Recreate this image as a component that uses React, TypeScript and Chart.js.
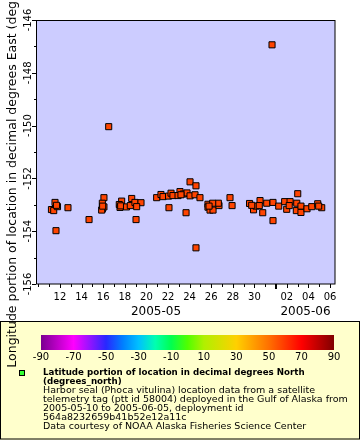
import { useEffect, useRef } from "react";
import { Chart, registerables } from "chart.js";

Chart.register(...registerables);

// Observation time, as fractional day of May 2005 (32 = 2005-06-01)
const obsDay = [
  11.21, 11.42, 11.54, 11.77, 11.68, 12.74, 11.63, 14.69, 16.07, 15.92,
  15.92, 16.07, 15.86, 15.95, 16.51, 17.71, 17.49, 17.56, 17.62, 18.16,
  18.64, 18.51, 18.94, 19.5, 19.1, 19.04, 20.95, 21.35, 21.54, 22.05,
  22.28, 22.46, 23.11, 22.93, 23.42, 23.76, 23.2, 24.04, 24.5, 24.96,
  24.04, 24.59, 22.09, 23.67, 24.59, 25.7, 25.7, 25.89, 26.17, 26.72,
  26.66, 26.14, 25.8, 27.74, 27.93, 29.55, 29.92, 30.15, 30.52, 30.45,
  30.77, 29.75, 31.14, 31.72, 31.72, 32.25, 32.8, 32.99, 33.3, 33.22,
  34.01, 33.92, 33.88, 34.31, 34.31, 34.87, 35.31, 35.86, 36.23, 35.95,
  31.63,
];
// Longitude in decimal degrees East
const obsLon = [
  -153.18, -153.22, -152.91, -153.07, -153.02, -153.11, -153.98, -153.56, -152.73, -152.94,
  -153.16, -153.08, -153.2, -153.05, -150.04, -152.86, -152.99, -153.1, -153.04, -153.08,
  -152.76, -153.03, -152.91, -152.92, -153.07, -153.56, -152.73, -152.61, -152.69, -152.67,
  -152.56, -152.65, -152.5, -152.65, -152.59, -152.55, -152.62, -152.66, -152.62, -152.73,
  -152.13, -152.28, -153.11, -153.3, -154.63, -152.98, -153.09, -153.2, -153.2, -153.03,
  -152.94, -152.94, -153.05, -152.73, -153.03, -152.95, -153.19, -153.05, -152.84, -153.03,
  -153.3, -153.02, -152.94, -152.91, -153.6, -153.05, -152.88, -153.17, -152.88, -153.03,
  -152.58, -152.94, -153.22, -153.05, -153.29, -153.15, -153.07, -152.96, -153.11, -153.05,
  -146.94,
];

const xMin = 9.78;
const xMax = 37.46;
const yMin = -156;
const yMax = -146;

const xTickDays = [10, 11, 12, 13, 14, 15, 16, 17, 18, 19, 20, 21, 22, 23, 24, 25, 26, 27, 28, 29, 30, 31, 32, 33, 34, 35, 36, 37];
const xLabelDays = [12, 14, 16, 18, 20, 22, 24, 26, 28, 30, 33, 35, 37];
const xLabelTexts = ["12", "14", "16", "18", "20", "22", "24", "26", "28", "30", "02", "04", "06"];
const monthStartDays = [32];
const monthLabels = ["2005-05", "2005-06"];

const yTickValues = [-156, -155, -154, -153, -152, -151, -150, -149, -148, -147, -146];
const yLabelValues = [-156, -154, -152, -150, -148, -146];
const yLabelTexts = ["-156", "-154", "-152", "-150", "-148", "-146"];

const cbarLabels = ["-90", "-70", "-50", "-30", "-10", "10", "30", "50", "70", "90"];
const cbarStops: [number, string][] = [
  [0, "#7a0090"],
  [0.111, "#ff00ff"],
  [0.222, "#2828ff"],
  [0.28, "#0080ff"],
  [0.333, "#00c0ff"],
  [0.39, "#00ffb0"],
  [0.444, "#00ff50"],
  [0.5, "#50ff00"],
  [0.556, "#b0f000"],
  [0.667, "#ffd000"],
  [0.778, "#ff7000"],
  [0.889, "#ff0000"],
  [1, "#800000"],
];

const titleY = "Longitude portion of location in decimal degrees East (degrees_east)";
const legendBold = ["Latitude portion of location in decimal degrees North", "(degrees_north)"];
const legendLines = [
  "Harbor seal (Phoca vitulina) location data from a satellite",
  "telemetry tag (ptt id 58004) deployed in the Gulf of Alaska from",
  "2005-05-10 to 2005-06-05, deployment id",
  "564a8232659b41b52e12a11c",
  "Data courtesy of NOAA Alaska Fisheries Science Center",
];

const FONT = '"DejaVu Sans"';

const decoPlugin = {
  id: "deco",
  beforeDraw(chart: any) {
    const { ctx, chartArea: a } = chart;
    ctx.save();
    ctx.fillStyle = "#ffffff";
    ctx.fillRect(0, 0, chart.width, chart.height);
    ctx.fillStyle = "#ccccff";
    ctx.fillRect(a.left, a.top, a.right - a.left, a.bottom - a.top);
    ctx.restore();
  },
  afterDraw(chart: any) {
    const { ctx, chartArea: a } = chart;
    const xs = chart.scales.x;
    const ys = chart.scales.y;
    ctx.save();
    // plot frame
    ctx.strokeStyle = "#000";
    ctx.lineWidth = 1;
    ctx.strokeRect(a.left + 0.5, a.top + 0.5, a.right - a.left - 0.5, a.bottom - a.top - 0.5);

    // x ticks
    ctx.fillStyle = "#000";
    xTickDays.forEach((d) => {
      const px = Math.round(xs.getPixelForValue(d));
      const isMonth = monthStartDays.includes(d);
      const len = isMonth ? 5 : xLabelDays.includes(d) ? 4 : 3;
      const w = isMonth ? 2 : 1;
      ctx.fillRect(px - (w > 1 ? 1 : 0), a.bottom, w, len);
    });
    ctx.font = `10px ${FONT}`;
    ctx.textAlign = "center";
    ctx.textBaseline = "middle";
    xLabelDays.forEach((d, i) => {
      ctx.fillText(xLabelTexts[i], xs.getPixelForValue(d), a.bottom + 13);
    });
    // month labels
    const bounds = [xs.min, ...monthStartDays, xs.max];
    ctx.font = `12px ${FONT}`;
    monthLabels.forEach((m, i) => {
      const mid = (bounds[i] + bounds[i + 1]) / 2;
      ctx.fillText(m, xs.getPixelForValue(mid), a.bottom + 28);
    });

    // y ticks
    yTickValues.forEach((v) => {
      const py = Math.round(ys.getPixelForValue(v));
      const len = yLabelValues.includes(v) ? 4 : 2;
      ctx.fillRect(a.left - len, py, len, 1);
    });
    ctx.font = `10px ${FONT}`;
    yLabelValues.forEach((v, i) => {
      const py = ys.getPixelForValue(v);
      ctx.save();
      ctx.translate(a.left - 8, py);
      ctx.rotate(-Math.PI / 2);
      ctx.textAlign = "center";
      ctx.textBaseline = "middle";
      ctx.fillText(yLabelTexts[i], 0, 0);
      ctx.restore();
    });

    // legend box
    ctx.fillStyle = "#ffffcc";
    ctx.fillRect(0, 321, 360, 119);
    ctx.strokeStyle = "#000";
    ctx.strokeRect(0.5, 321.5, 359, 117.5);

    // colorbar
    const cbL = 41, cbR = 334, cbT = 335, cbB = 350;
    const grad = ctx.createLinearGradient(cbL, 0, cbR, 0);
    cbarStops.forEach(([p, c]) => grad.addColorStop(p, c));
    ctx.fillStyle = grad;
    ctx.fillRect(cbL, cbT, cbR - cbL, cbB - cbT);
    ctx.fillStyle = "#000";
    ctx.font = `10px ${FONT}`;
    ctx.textAlign = "center";
    ctx.textBaseline = "middle";
    cbarLabels.forEach((t, i) => {
      const px = cbL + ((cbR - cbL) * i) / (cbarLabels.length - 1);
      ctx.fillText(t, px, 357);
    });

    // legend marker
    ctx.fillStyle = "#33ff33";
    ctx.fillRect(19.5, 370.5, 5, 5);
    ctx.strokeStyle = "#000";
    ctx.strokeRect(19.5, 370.5, 5, 5);

    // legend text
    ctx.fillStyle = "#000";
    ctx.textAlign = "left";
    ctx.textBaseline = "middle";
    ctx.font = `bold 8.7px ${FONT}`;
    legendBold.forEach((t, i) => ctx.fillText(t, 43, 373 + i * 9));
    ctx.font = `9.5px ${FONT}`;
    legendLines.forEach((t, i) => ctx.fillText(t, 43, 391 + i * 9));

    // y axis title (drawn last, overlaps legend)
    ctx.save();
    ctx.translate(12.5, (a.top + a.bottom) / 2);
    ctx.rotate(-Math.PI / 2);
    ctx.font = `12.5px ${FONT}`;
    ctx.textAlign = "center";
    ctx.textBaseline = "middle";
    ctx.fillStyle = "#000";
    ctx.fillText(titleY, 0, 0);
    ctx.restore();

    ctx.restore();
  },
};

export default function App() {
  const ref = useRef<HTMLCanvasElement | null>(null);
  useEffect(() => {
    if (!ref.current) return;
    const chart = new Chart(ref.current, {
      type: "scatter",
      data: {
        datasets: [
          {
            data: obsDay.map((d, i) => ({ x: d, y: obsLon[i] })),
            pointStyle: "rect",
            pointRadius: 4.3,
            pointHoverRadius: 4.3,
            backgroundColor: "#ff4400",
            borderColor: "#000000",
            borderWidth: 1,
          },
        ],
      },
      options: {
        animation: false,
        responsive: false,
        devicePixelRatio: 1,
        events: [],
        layout: { padding: { top: 20, right: 25, left: 0, bottom: 0 } },
        plugins: { legend: { display: false }, tooltip: { enabled: false } },
        scales: {
          x: {
            type: "linear",
            min: xMin,
            max: xMax,
            grid: { display: false },
            border: { display: false },
            ticks: { display: false },
            afterBuildTicks: (s: any) => {
              s.ticks = xTickDays.map((v) => ({ value: v }));
            },
            afterFit: (s: any) => {
              s.height = 156;
            },
          },
          y: {
            type: "linear",
            min: yMin,
            max: yMax,
            grid: { display: false },
            border: { display: false },
            ticks: { display: false },
            afterBuildTicks: (s: any) => {
              s.ticks = yTickValues.map((v) => ({ value: v }));
            },
            afterFit: (s: any) => {
              s.width = 36;
            },
          },
        },
      },
      plugins: [decoPlugin],
    });
    return () => chart.destroy();
  }, []);
  return (
    <canvas
      ref={ref}
      width={360}
      height={440}
      style={{ position: "absolute", left: 0, top: 0, width: 360, height: 440 }}
    />
  );
}
